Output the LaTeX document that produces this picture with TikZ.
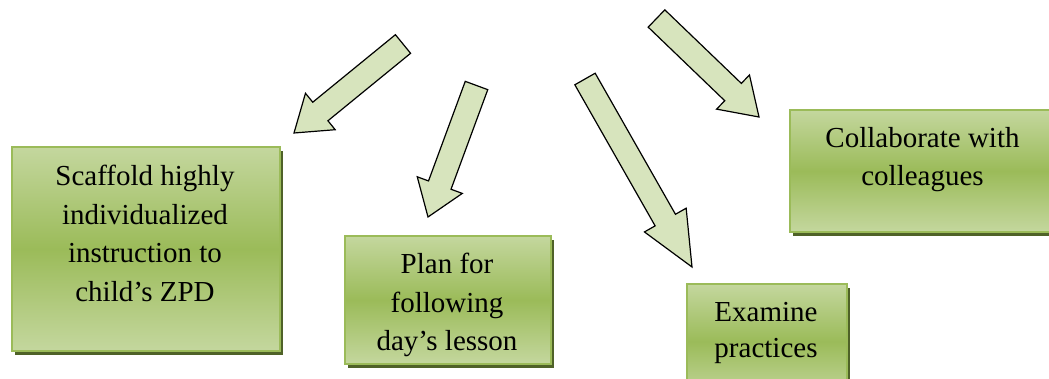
\documentclass[tikz,border=0pt]{standalone}
\usepackage{fontspec}
\setmainfont{Liberation Serif}
\usetikzlibrary{calc,shadows}
\definecolor{boxlight}{RGB}{196,215,158}
\definecolor{boxdark}{RGB}{155,187,89}
\definecolor{boxedge}{RGB}{155,187,89}
\definecolor{boxshadow}{RGB}{79,98,40}
\definecolor{arrowfill}{RGB}{215,228,189}
% tail centre, tip, half shaft width, half head width, head length
\newcommand\blockarrow[5]{%
  \path ($(#2)!#5!(#1)$) coordinate (bn);
  \draw[arrowshape] ($(#1)!#3!90:(#2)$) -- ($(bn)!#3!90:(#2)$) -- ($(bn)!#4!90:(#2)$)
    -- (#2) -- ($(bn)!#4!-90:(#2)$) -- ($(bn)!#3!-90:(#2)$) -- ($(#1)!#3!-90:(#2)$) -- cycle;}
\begin{document}
\begin{tikzpicture}[x=1pt,y=-1pt,
  box/.style={rectangle, draw=boxedge, line width=2pt, top color=boxlight, bottom color=boxlight,
    middle color=boxdark, drop shadow={shadow xshift=3pt, shadow yshift=-4pt, fill=boxshadow, opacity=1},
    anchor=north west, inner sep=0pt},
  lbl/.style={anchor=north, align=center, inner sep=0pt, font=\fontsize{29}{38.5}\selectfont},
  arrowshape/.style={draw=black, fill=arrowfill, line width=1.2pt, line join=miter}]
\useasboundingbox (0,0) rectangle (1049,379);
\clip (0,0) rectangle (1049,379);
% boxes
\node[box, minimum width=268pt, minimum height=204pt] (b1) at (11,146) {};
\node[box, minimum width=206pt, minimum height=128pt] (b2) at (344,235) {};
\node[box, minimum width=160pt, minimum height=115pt] (b3) at (686,283) {};
\node[box, minimum width=268pt, minimum height=122pt] (b4) at (789,109) {};
% texts
\node[lbl] (t1) at (145,165) {Scaffold highly\\individualized\\instruction to\\child’s ZPD};
\node[lbl] (t2) at (447,253) {Plan for\\following\\day’s lesson};
\node[lbl, font=\fontsize{29}{36.5}\selectfont] (t3) at (766,302) {Examine\\practices};
\node[lbl] (t4) at (922.5,127) {Collaborate with\\colleagues};
% arrows
\coordinate (a1s) at (403,44);   \coordinate (a1e) at (294,133);
\coordinate (a2s) at (476.5,85.5); \coordinate (a2e) at (428,217);
\coordinate (a3s) at (585,79);   \coordinate (a3e) at (692,267);
\coordinate (a4s) at (656.5,18.5); \coordinate (a4e) at (759,117);
\blockarrow{a1s}{a1e}{12pt}{23.5pt}{34pt}
\blockarrow{a2s}{a2e}{12pt}{24pt}{34pt}
\blockarrow{a3s}{a3e}{11.7pt}{24pt}{54pt}
\blockarrow{a4s}{a4e}{12pt}{23.7pt}{36pt}
\end{tikzpicture}
\end{document}
